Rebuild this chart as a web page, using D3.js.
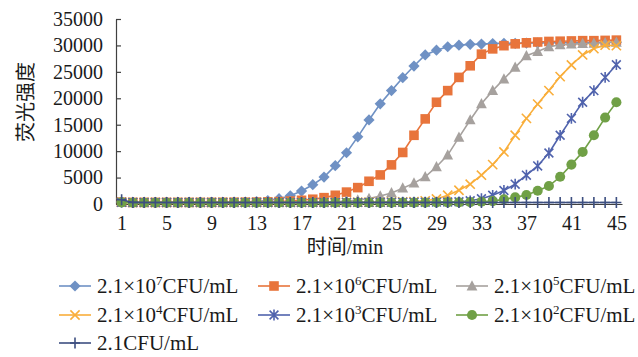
<!DOCTYPE html>
<html>
<head>
<meta charset="utf-8">
<script src="https://cdn.jsdelivr.net/npm/d3@7"></script>
<style>
  body { margin: 0; background: #fff; }
  svg { display: block; }
</style>
</head>
<body>
<div id="chart"></div>
<script>
// time points (min)
const times = [1, 2, 3, 4, 5, 6, 7, 8, 9, 10, 11, 12, 13, 14, 15, 16, 17, 18, 19, 20, 21, 22, 23,
  24, 25, 26, 27, 28, 29, 30, 31, 32, 33, 34, 35, 36, 37, 38, 39, 40, 41, 42, 43, 44, 45];
const xTicks = [1, 5, 9, 13, 17, 21, 25, 29, 33, 37, 41, 45];
const yTicks = [0, 5000, 10000, 15000, 20000, 25000, 30000, 35000];

// fluorescence values
const s7 = [380, 320, 310, 300, 300, 310, 300, 310, 320, 330, 350, 380, 450, 650, 1000, 1550, 2450, 3650,
  5100, 7250, 9700, 12700, 15900, 18950, 21450, 23900, 26100, 28200, 29100, 29750, 30050, 30200, 30250,
  30350, 30400, 30400, 30450, 30450, 30500, 30500, 30550, 30550, 30550, 30600, 30600];
const s6 = [350, 300, 300, 300, 300, 300, 300, 310, 310, 320, 330, 340, 360, 400, 450, 550, 700, 900,
  1200, 1650, 2250, 3100, 4300, 5500, 7400, 9750, 13000, 16100, 19250, 21450, 23950, 26150, 28350,
  29350, 29950, 30300, 30500, 30650, 30750, 30800, 30850, 30900, 30900, 30950, 31000];
const s5 = [330, 300, 300, 290, 300, 300, 300, 300, 300, 310, 310, 320, 320, 330, 340, 350, 360, 380,
  400, 420, 560, 750, 1050, 1500, 2100, 3000, 3950, 5150, 7050, 9250, 12600, 15900, 18950, 21450,
  23650, 25850, 28050, 28850, 29750, 30100, 30250, 30350, 30400, 30500, 30600];
const s4 = [340, 300, 300, 300, 300, 300, 300, 300, 300, 300, 300, 300, 300, 310, 310, 310, 320, 320,
  320, 330, 330, 340, 350, 360, 380, 400, 450, 600, 950, 1650, 2600, 3750, 5450, 7450, 9850, 13000,
  16200, 18900, 21450, 24100, 26300, 28200, 29400, 30050, 29950];
const s3 = [320, 300, 290, 290, 300, 290, 300, 290, 300, 290, 300, 300, 290, 300, 300, 300, 300, 300,
  300, 300, 310, 310, 310, 320, 320, 330, 330, 340, 360, 380, 420, 600, 1000, 1650, 2550, 3750, 5450,
  7200, 9650, 13000, 16200, 19250, 21450, 23950, 26350];
const s2 = [300, 250, 250, 250, 240, 250, 250, 250, 240, 250, 250, 250, 250, 250, 250, 250, 250, 250,
  250, 250, 250, 250, 250, 250, 260, 260, 260, 270, 280, 300, 320, 360, 420, 550, 900, 1250, 1700,
  2500, 3400, 5150, 7450, 9850, 13000, 16350, 19250];
const s1 = [800, 300, 280, 280, 270, 280, 270, 280, 270, 280, 270, 280, 270, 280, 270, 280, 270, 280,
  270, 280, 270, 280, 270, 280, 270, 280, 270, 280, 270, 280, 270, 280, 270, 280, 270, 280, 270, 280,
  270, 280, 270, 280, 270, 280, 270];

const seriesNames = ["7", "6", "5", "4", "3", "2", ""];
const seriesValues = [s7, s6, s5, s4, s3, s2, s1];
const seriesColors = ["#6f91c4", "#e8743b", "#a6a19e", "#f9ae3a", "#5063ad", "#70a046", "#3d4f80"];
const seriesMarkers = ["diamond", "square", "triangle", "x", "asterisk", "circle", "plus"];

const serif = "'Liberation Serif', 'Times New Roman', serif";
const cjk = "'Noto Sans CJK SC', sans-serif";

const svg = d3.select("#chart").append("svg")
  .attr("width", 638)
  .attr("height", 357)
  .style("font-family", serif);

svg.append("rect").attr("width", 638).attr("height", 357).attr("fill", "#fff");

const x = d3.scalePoint().domain(times).range([116, 622]).padding(0.5);
const y = d3.scaleLinear().domain([0, 35000]).range([204, 19]);

function markerPath(type) {
  if (type == "diamond") return "M0,-5.6L5.6,0L0,5.6L-5.6,0Z";
  if (type == "square") return "M-4.8,-4.8H4.8V4.8H-4.8Z";
  if (type == "triangle") return "M0,-5.8L5.4,4.4L-5.4,4.4Z";
  if (type == "circle") return d3.symbol(d3.symbolCircle, 80)();
  if (type == "x") return "M-4.6,-4.6L4.6,4.6M-4.6,4.6L4.6,-4.6";
  if (type == "asterisk") return "M-4.4,-4.4L4.4,4.4M-4.4,4.4L4.4,-4.4M0,-5.4L0,5.4";
  return "M-5,0L5,0M0,-5.5L0,5.5";
}
function isStroked(type) {
  return type == "x" || type == "asterisk" || type == "plus";
}
function drawMarker(g, type, color, cx, cy) {
  const p = g.append("path")
    .attr("d", markerPath(type))
    .attr("transform", "translate(" + cx + "," + cy + ")");
  if (isStroked(type)) {
    p.attr("fill", "none").attr("stroke", color).attr("stroke-width", 1.6);
  } else {
    p.attr("fill", color);
  }
}

// axes
const yAxis = svg.append("g")
  .attr("transform", "translate(116,0)")
  .call(d3.axisLeft(y).tickValues(yTicks).tickSizeInner(-5).tickSizeOuter(0).tickPadding(13)
    .tickFormat(d3.format("d")));
yAxis.attr("font-family", null);
yAxis.select(".domain").attr("stroke", "#404040").attr("stroke-width", 1.2);
yAxis.selectAll(".tick line").attr("stroke", "#404040").attr("stroke-width", 1.2);
yAxis.selectAll("text").style("font-family", serif).style("font-size", "20px").attr("fill", "#1a1a1a");

const xAxis = svg.append("g")
  .attr("transform", "translate(0,204)")
  .call(d3.axisBottom(x).tickValues(xTicks).tickSize(0).tickPadding(12));
xAxis.attr("font-family", null);
xAxis.select(".domain").attr("stroke", "#404040").attr("stroke-width", 1.2);
xAxis.selectAll("text").style("font-family", serif).style("font-size", "20px").attr("fill", "#1a1a1a");

// series
const line = d3.line().x((d, i) => x(times[i])).y(d => y(d));
seriesValues.forEach((vals, k) => {
  const g = svg.append("g");
  g.append("path")
    .attr("d", line(vals))
    .attr("fill", "none")
    .attr("stroke", seriesColors[k])
    .attr("stroke-width", 1.6);
  vals.forEach((v, i) => drawMarker(g, seriesMarkers[k], seriesColors[k], x(times[i]), y(v)));
});

// titles
svg.append("text")
  .attr("transform", "translate(33,102) rotate(-90)")
  .attr("text-anchor", "middle")
  .style("font-family", cjk)
  .style("font-size", "20px")
  .attr("fill", "#1a1a1a")
  .text("荧光强度");

svg.append("text")
  .attr("x", 345)
  .attr("y", 254)
  .attr("text-anchor", "middle")
  .style("font-size", "20px")
  .attr("fill", "#1a1a1a")
  .call(t => {
    t.append("tspan").style("font-family", cjk).text("时间");
    t.append("tspan").text("/min");
  });

// legend
const legX = [59, 258, 456];
const legY = [286, 315, 343];
seriesValues.forEach((vals, k) => {
  const lx = legX[k % 3];
  const ly = legY[Math.floor(k / 3)];
  const g = svg.append("g");
  g.append("line")
    .attr("x1", lx).attr("x2", lx + 32)
    .attr("y1", ly).attr("y2", ly)
    .attr("stroke", seriesColors[k]).attr("stroke-width", 1.6);
  drawMarker(g, seriesMarkers[k], seriesColors[k], lx + 16, ly);
  const t = g.append("text")
    .attr("x", lx + 38)
    .attr("y", ly + 7)
    .style("font-size", "21px")
    .attr("fill", "#1a1a1a");
  if (seriesNames[k] != "") {
    t.append("tspan").text("2.1×10");
    t.append("tspan").attr("dy", -8).style("font-size", "13px").text(seriesNames[k]);
    t.append("tspan").attr("dy", 8).text("CFU/mL");
  } else {
    t.text("2.1CFU/mL");
  }
});
</script>
</body>
</html>
